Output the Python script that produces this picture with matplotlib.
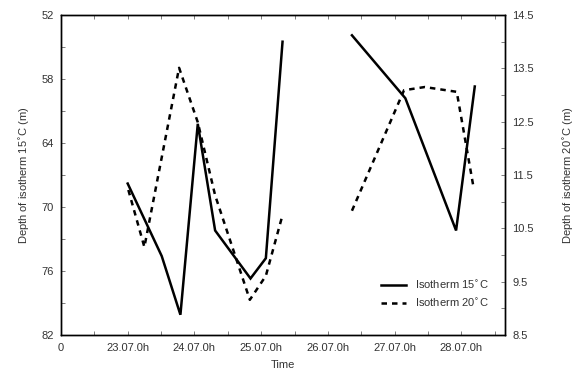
import numpy as np
import matplotlib
matplotlib.use("Agg")
import matplotlib.pyplot as plt
from matplotlib.ticker import MultipleLocator, FixedLocator

plt.rcParams['font.family'] = ['Liberation Sans', 'DejaVu Sans']

# Time in days of July (22 = left edge labelled "0")
t15 = [23.0, 23.51, 23.79, 24.05, 24.31, 24.84, 25.07, 25.32, np.nan, 26.36, 27.16, 27.92, 28.2]
depth15 = [67.8, 74.6, 80.1, 62.2, 72.2, 76.7, 74.8, 54.5, np.nan, 53.9, 59.8, 72.2, 58.7]

t20 = [23.01, 23.25, 23.77, 24.05, 24.31, 24.83, 25.07, 25.32, np.nan, 26.36, 27.14, 27.45, 27.93, 28.18]
depth20 = [11.22, 10.15, 13.51, 12.49, 11.12, 9.16, 9.61, 10.75, np.nan, 10.83, 13.09, 13.15, 13.06, 11.28]

xtick_pos = [22, 23, 24, 25, 26, 27, 28]
xtick_labels = ["0", "23.07.0h", "24.07.0h", "25.07.0h", "26.07.0h", "27.07.0h", "28.07.0h"]
left_ticks = [52, 58, 64, 70, 76, 82]
right_ticks = [8.5, 9.5, 10.5, 11.5, 12.5, 13.5, 14.5]

txt = '#333333'
fs = 8

fig = plt.figure(figsize=(5.86, 3.76), dpi=100)
ax = fig.add_axes([0.104, 0.109, 0.758, 0.851])
ax2 = ax.twinx()

l1, = ax.plot(t15, depth15, color='black', lw=1.8, solid_joinstyle='miter')
l2, = ax2.plot(t20, depth20, color='black', lw=1.8, linestyle=(0, (2.2, 2.0)))

ax.set_xlim(22, 28.655)
ax.set_ylim(82, 52)
ax2.set_ylim(8.5, 14.5)

ax.xaxis.set_major_locator(FixedLocator(xtick_pos))
ax.set_xticklabels(xtick_labels)
ax.xaxis.set_minor_locator(MultipleLocator(0.5))
ax.yaxis.set_major_locator(FixedLocator(left_ticks))
ax.yaxis.set_minor_locator(FixedLocator(np.arange(55, 82, 6)))
ax2.yaxis.set_major_locator(FixedLocator(right_ticks))
ax2.yaxis.set_minor_locator(FixedLocator(np.arange(9, 14.1, 1.0)))

for a in (ax, ax2):
    a.tick_params(which='both', direction='in', length=3, width=0.6, labelsize=fs, labelcolor=txt, color='#666666')
    for s in a.spines.values():
        s.set_linewidth(1.0)
ax.tick_params(axis='x', which='both', top=True, pad=6)
ax.tick_params(axis='y', which='both', pad=5)
ax2.tick_params(axis='y', which='both', pad=5)

ax.set_xlabel("Time", fontsize=fs, color=txt, labelpad=5)
ax.set_ylabel("Depth of isotherm 15$^{\\circ}$C (m)", fontsize=fs, color=txt, labelpad=7)
ax2.set_ylabel("Depth of isotherm 20$^{\\circ}$C (m)", fontsize=fs, color=txt, labelpad=20)

leg = ax.legend([l1, l2], ["Isotherm 15$^{\\circ}$C", "Isotherm 20$^{\\circ}$C"],
                loc='upper left', bbox_to_anchor=(0.71, 0.19), frameon=False,
                fontsize=fs, handlelength=2.3, labelspacing=0.55, borderaxespad=0)
for t in leg.get_texts():
    t.set_color(txt)

fig.savefig("out.png", dpi=100)
